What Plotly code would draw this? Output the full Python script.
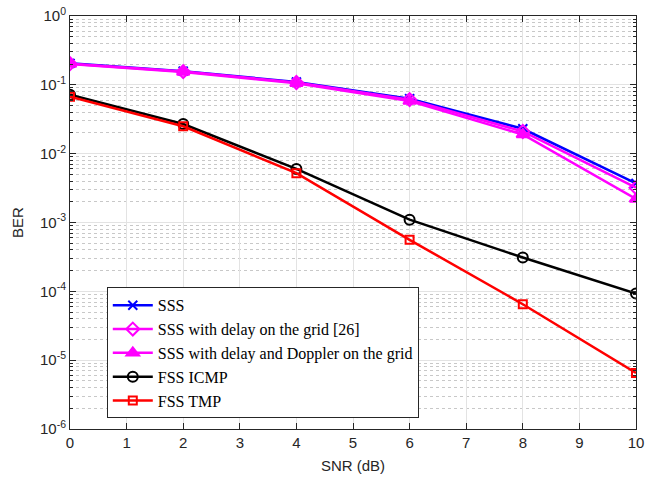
import plotly.graph_objects as go

snr = [0, 2, 4, 6, 8, 10]
ber_sss = [0.205, 0.158, 0.110, 0.063, 0.023, 0.0037]
ber_sss_delay = [0.203, 0.156, 0.108, 0.061, 0.021, 0.0032]
ber_sss_delay_doppler = [0.200, 0.154, 0.105, 0.058, 0.019, 0.0022]
ber_fss_icmp = [0.072, 0.027, 0.006, 0.0011, 0.00031, 0.000093]
ber_fss_tmp = [0.067, 0.025, 0.0052, 0.00056, 0.000065, 0.0000065]

names = ["SSS", "SSS with delay on the grid [26]", "SSS with delay and Doppler on the grid",
         "FSS ICMP", "FSS TMP"]
ytick_vals = [1e-6, 1e-5, 1e-4, 1e-3, 1e-2, 1e-1, 1]
ytick_text = ["10<sup>-6</sup>", "10<sup>-5</sup>", "10<sup>-4</sup>", "10<sup>-3</sup>",
              "10<sup>-2</sup>", "10<sup>-1</sup>", "10<sup>0</sup>"]
minor_vals = [m * d for d in ytick_vals[:-1] for m in range(2, 10)]

series = [
    (ber_sss, "#0000ff", "x-thin", 9),
    (ber_sss_delay, "#ff00ff", "diamond-open", 10),
    (ber_sss_delay_doppler, "#ff00ff", "triangle-up", 11),
    (ber_fss_icmp, "#000000", "circle-open", 10),
    (ber_fss_tmp, "#ff0000", "square-open", 8),
]

fig = go.Figure()
for (vals, col, sym, size), name in zip(series, names):
    fig.add_trace(go.Scatter(
        x=snr, y=vals, name=name, mode="lines+markers",
        line=dict(color=col, width=2.5),
        marker=dict(symbol=sym, size=size, color=col,
                    line=dict(color=col, width=2)),
    ))

axis_common = dict(
    showline=True, linecolor="#262626", linewidth=1, mirror="ticks",
    ticks="inside", tickcolor="#262626",
    gridcolor="#e3e3e3", gridwidth=1,
    tickfont=dict(family="Liberation Sans, Arial", size=15, color="#262626"),
    zeroline=False, automargin=False, ticklabeloverflow="allow",
)

fig.update_xaxes(
    range=[0, 10], dtick=1, tick0=0, ticklen=6,
    title=dict(text="SNR (dB)", font=dict(family="Liberation Sans, Arial", size=15, color="#262626"), standoff=10),
    **axis_common,
)
fig.update_yaxes(
    type="log", range=[-6, 0], tickvals=ytick_vals, ticktext=ytick_text, ticklen=6,
    title=dict(text="BER", font=dict(family="Liberation Sans, Arial", size=15, color="#262626"), standoff=12),
    minor=dict(tickvals=minor_vals, ticks="inside", ticklen=3, tickcolor="#262626", showgrid=True,
               gridcolor="#c8c8c8", griddash="dot", gridwidth=1),
    **axis_common,
)

fig.update_layout(
    width=645, height=478,
    margin=dict(l=70, r=9, t=16, b=49),
    paper_bgcolor="white", plot_bgcolor="white",
    showlegend=True,
    legend=dict(
        x=0.065, y=0.343, xanchor="left", yanchor="top",
        bgcolor="white", bordercolor="#262626", borderwidth=1,
        font=dict(family="Liberation Serif, Times New Roman", size=16, color="#000000"),
        tracegroupgap=0, itemwidth=40,
    ),
)

fig.write_html("out.html", config={"displayModeBar": False},
               post_script="document.body.style.margin='0';document.body.style.overflow='hidden';")
